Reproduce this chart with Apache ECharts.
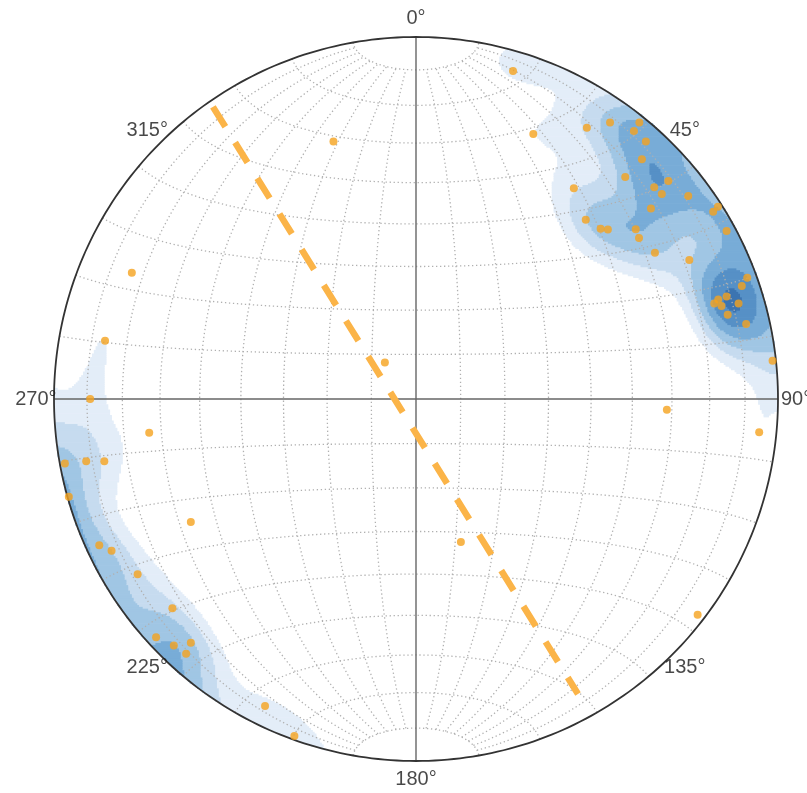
<!DOCTYPE html>
<html><head><meta charset="utf-8">
<script src="https://cdn.jsdelivr.net/npm/echarts/dist/echarts.min.js"></script>
<style>html,body{margin:0;padding:0;background:#fff}#c{width:807px;height:793px}</style>
</head><body><div id="c"></div>
<script>
// Poles: east / north offsets, in units of the net radius (equal-area net)
const poleEast = [0.324,0.472,0.536,0.617,0.602,0.635,0.624,0.578,0.436,0.658,0.697,0.679,0.752,0.649,0.469,0.510,0.530,0.607,0.616,0.660,0.755,0.821,0.834,0.858,0.268,
  0.915,0.900,0.858,0.835,0.824,0.844,0.891,0.861,0.912,0.985,0.948,0.693,0.778,0.124,-0.086,-0.228,-0.785,-0.859,
  -0.900,-0.737,-0.970,-0.911,-0.861,-0.959,-0.875,-0.841,
  -0.769,-0.673,-0.718,-0.669,-0.622,-0.635,-0.622,-0.417,-0.336];
const poleNorth = [0.732,0.749,0.764,0.764,0.740,0.711,0.662,0.613,0.582,0.585,0.602,0.566,0.561,0.526,0.495,0.470,0.468,0.469,0.445,0.404,0.384,0.517,0.531,0.464,0.906,
  0.335,0.312,0.283,0.275,0.264,0.257,0.264,0.233,0.207,0.106,-0.092,-0.030,-0.596,-0.395,0.101,0.711,0.349,0.161,
  0.000,-0.093,-0.178,-0.172,-0.172,-0.270,-0.404,-0.419,
  -0.484,-0.578,-0.658,-0.681,-0.673,-0.704,-0.340,-0.848,-0.931];
// dashed trace: start and end
const traceEast = [-0.561, 0.4475];
const traceNorth = [0.807, -0.815];
// azimuth tick labels
const tickAzimuths = [0,45,90,135,180,225,270,315];
const tickLabels = ['0°','45°','90°','135°','180°','225°','270°','315°'];
// density contour settings
const kernelF = 100;
const contourLevels = [1.25,2.3,3.4,4.6,5.9,7.3];
const contourColors = ['#e3edf8','#c6dbef','#a0c6e4','#78acd7','#5690c6','#3c74b1'];

function toVec(x,y){const r=Math.hypot(x,y); if(r<1e-9) return [0,0,1];
  const c=2*Math.asin(Math.min(1,r)/Math.SQRT2); const s=Math.sin(c)/r; return [x*s,y*s,Math.cos(c)];}
const pv = poleEast.map((e,i)=>toVec(e,poleNorth[i]));
const N=400, step=2/N;
const dens=[];
for(let j=0;j<N;j++){const y=-1+step*(j+0.5); const row=new Float32Array(N);
  for(let i=0;i<N;i++){const x=-1+step*(i+0.5); if(x*x+y*y>1){row[i]=-1;continue;}
    const g=toVec(x,y); let s=0;
    for(const p of pv){const c=Math.abs(g[0]*p[0]+g[1]*p[1]+g[2]*p[2]); s+=Math.exp(kernelF*(c-1));}
    row[i]=s;}
  dens.push(row);}
const runs=[];
contourLevels.forEach((L,k)=>{for(let j=0;j<N;j++){const y=-1+step*(j+0.5); const row=dens[j]; let st=-1;
  for(let i=0;i<=N;i++){const on=i<N&&row[i]>=L; if(on&&st<0) st=i; if(!on&&st>=0){runs.push([-1+step*st,-1+step*i,y,k]); st=-1;}}}});

// net grid (equal-area, 10 degree)
const D=Math.PI/180;
function proj(lon,lat){const cl=Math.cos(lat*D); const k=Math.sqrt(2/(1+cl*Math.cos(lon*D)));
  return [k*cl*Math.sin(lon*D)/Math.SQRT2, k*Math.sin(lat*D)/Math.SQRT2];}
const gridCurves=[];
for(let lon=-80;lon<=80;lon+=10){if(lon===0) continue; const c=[]; for(let lat=-80;lat<=80;lat+=1) c.push(proj(lon,lat)); gridCurves.push({coords:c});}
for(let lat=-80;lat<=80;lat+=10){if(lat===0) continue; const c=[]; for(let lon=-90;lon<=90;lon+=1) c.push(proj(lon,lat)); gridCurves.push({coords:c});}
const circle=[]; for(let a=0;a<=360;a+=1) circle.push([Math.sin(a*D),Math.cos(a*D)]);

const chart=echarts.init(document.getElementById('c'),null,{renderer:'canvas'});
chart.setOption({
  animation:false,
  grid:{left:54,top:37,width:724,height:724},
  xAxis:{type:'value',min:-1,max:1,show:false},
  yAxis:{type:'value',min:-1,max:1,show:false},
  series:[
    {type:'custom',coordinateSystem:'cartesian2d',data:runs,progressive:0,silent:true,z:1,clip:false,
     encode:{x:[0,1],y:2},
     renderItem:(params,api)=>{const a=api.coord([api.value(0),api.value(2)+step/2]); const b=api.coord([api.value(1),api.value(2)-step/2]);
       return {type:'rect',shape:{x:a[0],y:a[1]-0.3,width:b[0]-a[0],height:b[1]-a[1]+0.6},style:{fill:contourColors[api.value(3)]}};}},
    {type:'lines',coordinateSystem:'cartesian2d',polyline:true,silent:true,z:2,data:gridCurves,
     lineStyle:{color:'#b0b0b0',width:1.3,type:[1.3,2.7],opacity:1}},
    {type:'lines',coordinateSystem:'cartesian2d',polyline:true,silent:true,z:3,
     data:[{coords:[[-1,0],[1,0]]},{coords:[[0,-1],[0,1]]}],lineStyle:{color:'#666',width:1.4,opacity:1}},
    {type:'lines',coordinateSystem:'cartesian2d',polyline:true,silent:true,z:4,
     data:[{coords:circle}],lineStyle:{color:'#333',width:1.8,opacity:1}},
    {type:'lines',coordinateSystem:'cartesian2d',polyline:true,silent:true,z:5,
     data:[{coords:[[traceEast[0],traceNorth[0]],[traceEast[1],traceNorth[1]]]}],
     lineStyle:{color:'#fbb448',width:6.5,type:[23.5,18.5],cap:'butt',opacity:1}},
    {type:'scatter',silent:true,z:6,symbolSize:8,itemStyle:{color:'#f5a31e'},
     data:poleEast.map((e,i)=>[e,poleNorth[i]])},
    {type:'scatter',silent:true,z:7,symbolSize:0,clip:false,
     data:tickAzimuths.map((a,i)=>[1.05*Math.sin(a*D),1.05*Math.cos(a*D),i]),
     label:{show:true,position:'inside',formatter:p=>tickLabels[p.value[2]],fontSize:20,color:'#1a1a1a',fontFamily:'Liberation Sans, Arial, sans-serif'}}
  ]
});
</script></body></html>
